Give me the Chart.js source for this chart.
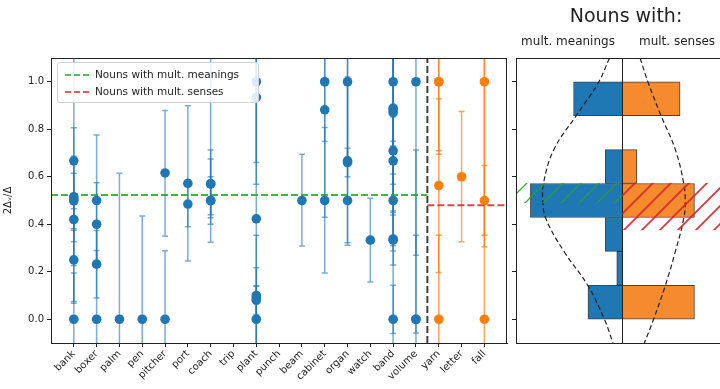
<!DOCTYPE html>
<html>
<head>
<meta charset="utf-8">
<script src="https://cdn.jsdelivr.net/npm/chart.js@4.4.1/dist/chart.umd.min.js"></script>
<style>
    html, body { margin: 0; padding: 0; background: #fff; overflow: hidden; }
    #wrap { position: relative; width: 720px; height: 389px; overflow: hidden; font-family: "DejaVu Sans", sans-serif; color: #222; }
    canvas { position: absolute; top: 0; }
    #left { left: 0; }
    #right { left: 512px; }
    .lbl { position: absolute; white-space: nowrap; transform: translateX(-50%); }
    #legend { position: absolute; left: 57px; top: 62px; width: 200px; height: 39px; border: 1px solid #d0d0d0; border-radius: 3px; background: rgba(255,255,255,0.85); font-size: 10.5px; }
    #legend .row { position: absolute; left: 7px; height: 14px; line-height: 14px; }
    #legend svg { vertical-align: middle; margin-right: 6px; }
</style>
</head>
<body>
<div id="wrap">
    <canvas id="left" width="512" height="389"></canvas>
    <canvas id="right" width="217" height="389"></canvas>
    <div class="lbl" style="left:626px; top:4px; font-size:19px;">Nouns with:</div>
    <div class="lbl" style="left:568px; top:34px; font-size:12px;">mult. meanings</div>
    <div class="lbl" style="left:677px; top:34px; font-size:12px;">mult. senses</div>
    <div id="legend">
        <div class="row" style="top:4px;"><svg width="24" height="4"><line x1="0" y1="2" x2="24" y2="2" stroke="#2ca02c" stroke-width="1.6" stroke-dasharray="6 3"/></svg>Nouns with mult. meanings</div>
        <div class="row" style="top:21px;"><svg width="24" height="4"><line x1="0" y1="2" x2="24" y2="2" stroke="#d62728" stroke-width="1.6" stroke-dasharray="6 3"/></svg>Nouns with mult. senses</div>
    </div>
</div>
<script>
// nouns on the x axis; the last three are the "mult. senses" group
const categories = ["bank", "boxer", "palm", "pen", "pitcher", "port", "coach", "trip", "plant", "punch",
    "beam", "cabinet", "organ", "watch", "band", "volume", "yarn", "letter", "fall"];
const senseNouns = ["yarn", "letter", "fall"];

// one list of ratings per noun, with the lower / upper ends of each error bar
const ratings = [
    [0.667, 0.516, 0.506, 0.498, 0.42, 0.25, 0.0],
    [0.5, 0.4, 0.232, 0.0],
    [0.0],
    [0.0],
    [0.616, 0.0],
    [0.572, 0.485],
    [0.57, 0.57, 0.5, 0.5],
    [],
    [1.0, 0.934, 0.423, 0.1, 0.09, 0.08, 0.0],
    [],
    [0.5],
    [1.0, 0.882, 0.5],
    [1.0, 0.667, 0.66, 0.5],
    [0.333],
    [1.0, 0.889, 0.882, 0.87, 0.709, 0.667, 0.5, 0.338, 0.333, 0.0],
    [1.0, 0.0, 0.0],
    [1.0, 1.0, 0.563, 0.0],
    [0.6],
    [1.0, 0.5, 0.0]
];
const errLow = [
    [0.067, 0.226, 0.326, 0.381, 0.375, 0.075, -0.195],
    [0.224, 0.225, 0.09, -0.29],
    [-0.615],
    [-0.435],
    [0.35, -0.288],
    [0.245, 0.39],
    [0.427, 0.44, 0.4, 0.324],
    [],
    [0.66, 0.568, -0.3, -0.15, 0.02, 0.0, -0.14],
    [],
    [0.308],
    [0.748, 0.429, 0.195],
    [0.65, 0.312, 0.6, 0.322],
    [0.157],
    [0.727, 0.612, 0.568, 0.456, 0.439, 0.309, 0.287, 0.228, -0.06, -0.2],
    [0.27, -0.058, -0.25],
    [0.695, 0.71, 0.197, -0.354],
    [0.326],
    [0.305, 0.354, -0.3]
];
const errHigh = [
    [1.26, 0.806, 0.686, 0.615, 0.465, 0.425, 0.195],
    [0.776, 0.575, 0.374, 0.29],
    [0.615],
    [0.435],
    [0.879, 0.288],
    [0.899, 0.58],
    [0.713, 1.2, 0.6, 0.675],
    [],
    [1.34, 1.3, 1.15, 0.354, 0.217, 0.14, 0.14],
    [],
    [0.695],
    [1.25, 1.3, 0.807],
    [1.35, 1.02, 0.72, 1.2],
    [0.509],
    [1.3, 1.2, 1.25, 1.28, 0.853, 1.1, 0.75, 0.45, 0.73, 0.143],
    [1.4, 0.713, 0.354],
    [1.3, 1.29, 0.928, 0.354],
    [0.875],
    [1.5, 0.647, 1.2]
];

// group means (dashed lines)
const meanMeanings = 0.523;
const meanSenses = 0.48;

const yTicks = [0.0, 0.2, 0.4, 0.6, 0.8, 1.0];
const yMin = -0.1, yMax = 1.1;

// histogram of the right panel (bins of 1/7)
const binCenters = [0.0714, 0.2143, 0.3571, 0.5, 0.6429, 0.7857, 0.9286];
const histMeanings = [12, 2, 6, 32, 6, 0, 17];
const histSenses = [25, 0, 0, 25, 5, 0, 20];

// dashed density curves of the right panel
const kdeY = [1.10, 0.994, 0.857, 0.713, 0.570, 0.502, 0.426, 0.287, 0.139, 0.0, -0.10];
const kdeMeanings = [4.5, 8.5, 16.1, 23.9, 27.5, 27.7, 26.7, 20.4, 11.9, 6.3, 3.3];
const kdeSenses = [6.1, 9.0, 13.4, 18.4, 21.3, 21.8, 21.3, 18.4, 14.8, 10.8, 7.6];

// hatched bands [low, high] next to the means
const hatchMeanings = [0.489, 0.574];
const hatchSenses = [0.375, 0.574];
const panelHalf = 37;

const BLUE = "#1f77b4", ORANGE = "#ff7f0e", GREEN = "rgba(44,160,44,0.85)", RED = "rgba(214,39,40,0.85)";
const INK = "#222";

const isSense = (i) => senseNouns.includes(categories[i]);
const divider = categories.length - senseNouns.length - 0.5;

const meaningPts = [], sensePts = [];
ratings.forEach((vals, i) => vals.forEach(v => (isSense(i) ? sensePts : meaningPts).push({ x: i, y: v })));

const frame = {
    id: "frame",
    afterDraw(chart) {
        const { ctx, chartArea: a } = chart;
        ctx.save();
        ctx.strokeStyle = INK;
        ctx.lineWidth = 1;
        ctx.strokeRect(Math.round(a.left) + 0.5, Math.round(a.top) + 0.5, Math.round(a.right - a.left) - 1, Math.round(a.bottom - a.top));
        ctx.restore();
    }
};

const errorBars = {
    id: "errorBars",
    beforeDatasetsDraw(chart) {
        const { ctx, chartArea: a, scales: { x, y } } = chart;
        ctx.save();
        ctx.beginPath();
        ctx.rect(a.left, a.top, a.right - a.left, a.bottom - a.top);
        ctx.clip();
        ctx.lineWidth = 1.5;
        ratings.forEach((vals, i) => {
            ctx.strokeStyle = isSense(i) ? "rgba(255,127,14,0.7)" : "rgba(31,119,180,0.6)";
            const px = x.getPixelForValue(i);
            vals.forEach((v, j) => {
                const top = y.getPixelForValue(errHigh[i][j]);
                const bot = y.getPixelForValue(errLow[i][j]);
                ctx.beginPath();
                ctx.moveTo(px, top); ctx.lineTo(px, bot);
                ctx.moveTo(px - 3, top); ctx.lineTo(px + 3, top);
                ctx.moveTo(px - 3, bot); ctx.lineTo(px + 3, bot);
                ctx.stroke();
            });
        });
        ctx.restore();
    }
};

new Chart(document.getElementById("left"), {
    type: "scatter",
    data: {
        datasets: [
            { data: meaningPts, backgroundColor: BLUE, borderWidth: 0, pointRadius: 4.8 },
            { data: sensePts, backgroundColor: ORANGE, borderWidth: 0, pointRadius: 4.8 },
            { data: [{ x: -1, y: meanMeanings }, { x: divider, y: meanMeanings }], showLine: true, borderColor: GREEN, borderWidth: 2, borderDash: [7, 3], pointRadius: 0 },
            { data: [{ x: divider, y: meanSenses }, { x: categories.length, y: meanSenses }], showLine: true, borderColor: RED, borderWidth: 2, borderDash: [7, 3], pointRadius: 0 },
            { data: [{ x: divider, y: yMin }, { x: divider, y: yMax }], showLine: true, borderColor: "rgba(30,30,30,0.85)", borderWidth: 2, borderDash: [7, 3], pointRadius: 0 }
        ]
    },
    options: {
        responsive: false,
        animation: false,
        layout: { padding: { top: 58, right: 2, left: 0, bottom: 0 } },
        plugins: { legend: { display: false }, tooltip: { enabled: false } },
        scales: {
            x: {
                type: "linear", min: -1, max: categories.length,
                afterBuildTicks: s => { s.ticks = categories.map((c, i) => ({ value: i })); },
                afterFit: s => { s.height = 46; },
                ticks: { autoSkip: false, minRotation: 45, maxRotation: 45, padding: 1, color: INK,
                    font: { family: "DejaVu Sans", size: 10 }, callback: v => categories[v] },
                grid: { drawOnChartArea: false, tickLength: 4, color: INK },
                border: { color: INK }
            },
            y: {
                min: yMin, max: yMax,
                afterBuildTicks: s => { s.ticks = yTicks.map(v => ({ value: v })); },
                afterFit: s => { s.width = 51; },
                ticks: { padding: 3, color: INK, font: { family: "DejaVu Sans", size: 10 }, callback: v => v.toFixed(1) },
                grid: { drawOnChartArea: false, tickLength: 4, color: INK },
                border: { color: INK },
                title: { display: true, text: "2Δᵥ/Δ", color: INK, font: { family: "DejaVu Sans", size: 10 }, padding: 2 }
            }
        }
    },
    plugins: [errorBars, frame]
});

function hatchPattern(color, width) {
    const size = 18;
    const c = document.createElement("canvas");
    c.width = size; c.height = size;
    const g = c.getContext("2d");
    g.strokeStyle = color;
    g.lineWidth = width;
    g.beginPath();
    g.moveTo(-2, size + 2); g.lineTo(size + 2, -2);
    g.moveTo(-2, 2); g.lineTo(2, -2);
    g.moveTo(size - 2, size + 2); g.lineTo(size + 2, size - 2);
    g.stroke();
    return c;
}

const hatches = {
    id: "hatches",
    afterDatasetsDraw(chart) {
        const { ctx, chartArea: a, scales: { x, y } } = chart;
        const bands = [
            { lo: hatchMeanings[0], hi: hatchMeanings[1], from: -panelHalf, to: 0, img: hatchPattern("rgba(44,160,44,0.9)", 1.3) },
            { lo: hatchSenses[0], hi: hatchSenses[1], from: 0, to: panelHalf, img: hatchPattern("rgba(214,39,40,0.9)", 1.8) }
        ];
        ctx.save();
        ctx.beginPath();
        ctx.rect(a.left, a.top, a.right - a.left, a.bottom - a.top);
        ctx.clip();
        bands.forEach(b => {
            const x0 = x.getPixelForValue(b.from), x1 = x.getPixelForValue(b.to);
            const y0 = y.getPixelForValue(b.hi), y1 = y.getPixelForValue(b.lo);
            ctx.fillStyle = ctx.createPattern(b.img, "repeat");
            ctx.fillRect(x0, y0, x1 - x0, y1 - y0);
        });
        ctx.restore();
    }
};

new Chart(document.getElementById("right"), {
    type: "bar",
    data: {
        datasets: [
            { type: "line", data: kdeY.map((v, k) => ({ x: -kdeMeanings[k], y: v })), borderColor: INK, borderWidth: 1.2, borderDash: [5, 3], pointRadius: 0, tension: 0.4 },
            { type: "line", data: kdeY.map((v, k) => ({ x: kdeSenses[k], y: v })), borderColor: INK, borderWidth: 1.2, borderDash: [5, 3], pointRadius: 0, tension: 0.4 },
            { type: "line", data: [{ x: 0, y: yMin }, { x: 0, y: yMax }], borderColor: INK, borderWidth: 1, pointRadius: 0 },
            { data: binCenters.map((b, k) => ({ x: -histMeanings[k], y: b })), backgroundColor: BLUE,
              borderColor: "rgba(20,20,20,0.8)", borderWidth: 1, borderSkipped: "start", grouped: false, barPercentage: 1, categoryPercentage: 1 },
            { data: binCenters.map((b, k) => ({ x: histSenses[k], y: b })), backgroundColor: "#f58a2f",
              borderColor: "rgba(20,20,20,0.8)", borderWidth: 1, borderSkipped: "start", grouped: false, barPercentage: 1, categoryPercentage: 1 }
        ]
    },
    options: {
        indexAxis: "y",
        responsive: false,
        animation: false,
        layout: { padding: { top: 58, right: 0, left: 0, bottom: 46 } },
        plugins: { legend: { display: false }, tooltip: { enabled: false } },
        scales: {
            x: { type: "linear", min: -panelHalf, max: panelHalf, display: false },
            y: {
                type: "linear", min: yMin, max: yMax, offset: false,
                afterBuildTicks: s => { s.ticks = yTicks.map(v => ({ value: v })); },
                afterFit: s => { s.width = 4; },
                ticks: { display: false },
                grid: { offset: false, drawOnChartArea: false, tickLength: 4, color: INK },
                border: { color: INK }
            }
        }
    },
    plugins: [hatches, frame]
});
</script>
</body>
</html>
